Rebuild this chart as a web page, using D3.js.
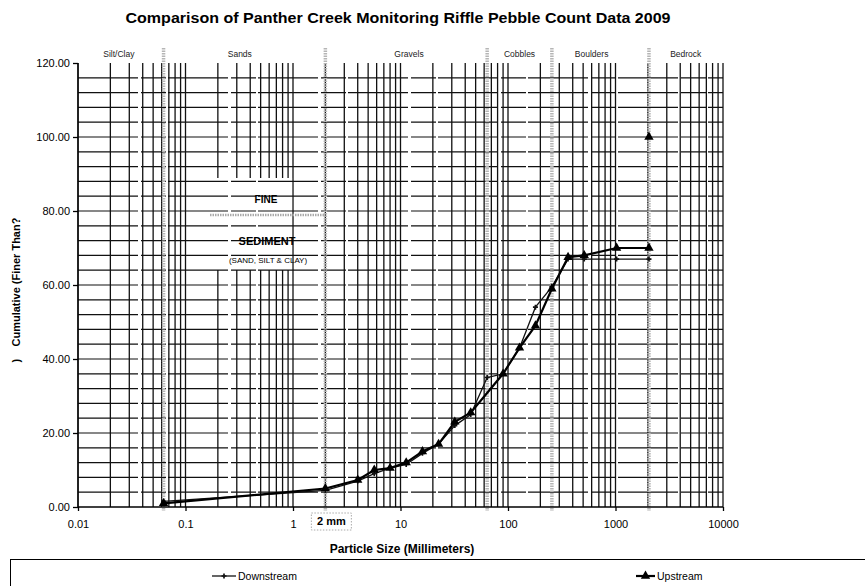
<!DOCTYPE html>
<html><head><meta charset="utf-8">
<script src="https://cdn.jsdelivr.net/npm/d3@7"></script>
<style>body{margin:0;background:#fff}svg{display:block}</style>
</head><body>
<svg id="c" width="865" height="586"></svg>
<script>
// ---- data ----
const chartTitle = "Comparison of Panther Creek Monitoring Riffle Pebble Count Data 2009";
const xTickValues = [0.01, 0.1, 1, 10, 100, 1000, 10000];
const xTickLabels = ["0.01", "0.1", "1", "10", "100", "1000", "10000"];
const yTickValues = [0, 20, 40, 60, 80, 100, 120];
const yTickLabels = ["0.00", "20.00", "40.00", "60.00", "80.00", "100.00", "120.00"];
const classBounds = [0.0625, 2, 64, 256, 2048];
const classNames = ["Silt/Clay", "Sands", "Gravels", "Cobbles", "Boulders", "Bedrock"];
const classLabelAt = [0.024, 0.32, 12, 128, 600, 4500];
const downSize = [0.0625, 2, 4, 5.7, 8, 11.3, 16, 22.6, 32, 45, 64, 90, 128, 180, 256, 362, 512, 1024, 2048];
const downPct  = [1.5, 4.5, 7, 9, 10.5, 11.5, 14.5, 17, 22, 25, 35, 36, 43, 54, 59.5, 67, 67, 67, 67];
const upSize = [0.0625, 2, 4, 5.7, 8, 11.3, 16, 22.6, 32, 45, 90, 128, 180, 256, 362, 512, 1024, 2048, null, 2048];
const upPct  = [1, 5, 7.3, 10, 10.5, 12, 15, 17, 23, 25.5, 36, 43, 49, 59, 67.5, 68, 70, 70, null, 100];

// ---- layout ----
const svg = d3.select("#c");
const L = 78, R = 723, T = 63, B = 507;
const x = d3.scaleLog().domain([0.01, 10000]).range([L, R]);
const y = d3.scaleLinear().domain([0, 120]).range([B, T]);

svg.append("text").attr("x", 398).attr("y", 23).attr("text-anchor", "middle")
  .attr("font-family", "Liberation Sans, Arial, sans-serif").attr("font-weight", "bold")
  .attr("font-size", 14.5).attr("textLength", 545).attr("lengthAdjust", "spacingAndGlyphs").text(chartTitle);

// vertical grid (minor log lines)
const vgrid = [];
for (let e = -2; e < 4; e++) for (let m = 1; m <= 9; m++) vgrid.push(m * Math.pow(10, e));
vgrid.push(10000);
svg.append("g").selectAll("line").data(vgrid).join("line")
  .attr("x1", d => x(d)).attr("x2", d => x(d)).attr("y1", T).attr("y2", B)
  .attr("stroke", "#111").attr("stroke-width", 1.3);

// white mask behind fine sediment note (hides vertical grid)
svg.append("rect").attr("x", x(0.105)).attr("y", 178).attr("width", x(0.98) - x(0.105)).attr("height", 92).attr("fill", "#fff");

// horizontal grid every 4
const hgrid = d3.range(4, 120, 4);
svg.append("g").selectAll("line").data(hgrid).join("line")
  .attr("x1", L).attr("x2", R).attr("y1", d => y(d)).attr("y2", d => y(d))
  .attr("stroke", "#111").attr("stroke-width", 1.2).attr("stroke-dasharray", "60,3,25,2");

// class boundary lines (gray stipple)
svg.append("g").selectAll("line").data(classBounds).join("line")
  .attr("x1", d => x(d)).attr("x2", d => x(d)).attr("y1", 48).attr("y2", B + 4)
  .attr("stroke", "#b5b5b5").attr("stroke-width", 3.5).attr("stroke-dasharray", "1.5,1");

// class labels
svg.append("g").selectAll("text").data(classNames).join("text")
  .attr("x", (d, i) => x(classLabelAt[i])).attr("y", 57).attr("text-anchor", "middle")
  .attr("font-family", "Liberation Sans Narrow, Arial Narrow, sans-serif").attr("font-size", 8.5)
  .attr("fill", "#222").text(d => d);

// axes
const xAxis = svg.append("g").attr("transform", `translate(0,${B})`)
  .call(d3.axisBottom(x).tickValues(xTickValues).tickFormat((d, i) => xTickLabels[i]).tickSize(4).tickPadding(9));
const yAxis = svg.append("g").attr("transform", `translate(${L},0)`)
  .call(d3.axisLeft(y).tickValues(yTickValues).tickFormat((d, i) => yTickLabels[i]).tickSize(5).tickPadding(3));
[xAxis, yAxis].forEach(a => {
  a.selectAll("path,line").attr("stroke", "#000").attr("stroke-width", 1.3);
  a.selectAll("text").attr("font-family", "Liberation Sans, Arial, sans-serif").attr("font-size", 11).attr("fill", "#000");
});
xAxis.select(".domain").attr("d", `M${L},0H${R}`);
yAxis.select(".domain").attr("d", `M0,${B}V${T}`);

// "2 mm" box
svg.append("rect").attr("x", x(2) - 14).attr("y", 513).attr("width", 40).attr("height", 17)
  .attr("fill", "#fff").attr("stroke", "#aaa").attr("stroke-dasharray", "1.5,1.5");
svg.append("text").attr("x", x(2) + 6).attr("y", 525).attr("text-anchor", "middle")
  .attr("font-family", "Liberation Sans, Arial, sans-serif").attr("font-weight", "bold").attr("font-size", 11).text("2 mm");

// fine sediment note
const note = svg.append("g").attr("font-family", "Liberation Sans, Arial, sans-serif").attr("text-anchor", "middle");
note.append("text").attr("x", 266).attr("y", 203).attr("font-weight", "bold").attr("font-size", 10).text("FINE");
note.append("line").attr("x1", 210).attr("x2", 324).attr("y1", 215).attr("y2", 215)
  .attr("stroke", "#aaa").attr("stroke-width", 2.5).attr("stroke-dasharray", "1.5,1");
note.append("text").attr("x", 267).attr("y", 245).attr("font-weight", "bold").attr("font-size", 11).text("SEDIMENT");
note.append("text").attr("x", 268).attr("y", 263).attr("font-size", 8).text("(SAND, SILT & CLAY)");

// axis titles
svg.append("text").attr("x", 402).attr("y", 553).attr("text-anchor", "middle")
  .attr("font-family", "Liberation Sans, Arial, sans-serif").attr("font-weight", "bold").attr("font-size", 12)
  .text("Particle Size (Millimeters)");
svg.append("text").attr("transform", "translate(20,290) rotate(-90)").attr("text-anchor", "middle")
  .attr("font-family", "Liberation Sans, Arial, sans-serif").attr("font-weight", "bold").attr("font-size", 11)
  .attr("xml:space", "preserve").text(")    Cumulative (Finer Than?");

// series
const downData = downSize.map((s, i) => ({s, p: downPct[i]}));
const upData = upSize.map((s, i) => ({s, p: upPct[i]}));
const line = d3.line().defined(d => d.s != null).x(d => x(d.s)).y(d => y(d.p));
svg.append("path").datum(downData).attr("d", line).attr("fill", "none").attr("stroke", "#111").attr("stroke-width", 1.3);
svg.append("path").datum(upData).attr("d", line).attr("fill", "none").attr("stroke", "#000").attr("stroke-width", 2.2);
svg.append("g").selectAll("path").data(downData).join("path")
  .attr("transform", d => `translate(${x(d.s)},${y(d.p)})`)
  .attr("d", d3.symbol(d3.symbolCross, 14)).attr("fill", "#111");
svg.append("g").selectAll("path").data(upData.filter(d => d.s != null)).join("path")
  .attr("transform", d => `translate(${x(d.s)},${y(d.p)})`)
  .attr("d", d3.symbol(d3.symbolTriangle, 38)).attr("fill", "#000");

// legend
svg.append("rect").attr("x", 10.5).attr("y", 559.5).attr("width", 900).attr("height", 60)
  .attr("fill", "none").attr("stroke", "#000").attr("stroke-width", 1);
const lg = svg.append("g").attr("font-family", "Liberation Sans, Arial, sans-serif").attr("font-size", 10.5);
lg.append("line").attr("x1", 212).attr("x2", 236).attr("y1", 576).attr("y2", 576).attr("stroke", "#111").attr("stroke-width", 1.3);
lg.append("path").attr("transform", "translate(224,576)").attr("d", d3.symbol(d3.symbolCross, 14)).attr("fill", "#111");
lg.append("text").attr("x", 238).attr("y", 580).text("Downstream");
lg.append("line").attr("x1", 636).attr("x2", 655).attr("y1", 576).attr("y2", 576).attr("stroke", "#000").attr("stroke-width", 2.2);
lg.append("path").attr("transform", "translate(645.5,576)").attr("d", d3.symbol(d3.symbolTriangle, 38)).attr("fill", "#000");
lg.append("text").attr("x", 657).attr("y", 580).text("Upstream");
</script>
</body></html>
